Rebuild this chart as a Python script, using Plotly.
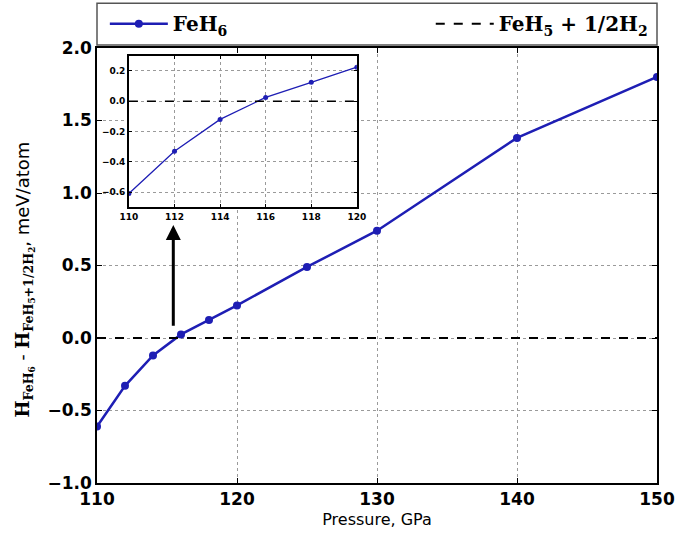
import plotly.graph_objects as go

# ---- data ----
pressure = [110, 112, 114, 116, 118, 120, 125, 130, 140, 150]
dH_feh6 = [-0.61, -0.33, -0.12, 0.025, 0.125, 0.225, 0.49, 0.74, 1.38, 1.80]
ref_level = [0.0, 0.0]
ref_x = [110, 150]
inset_p = [110, 112, 114, 116, 118, 120]
inset_dH = [-0.61, -0.33, -0.12, 0.025, 0.125, 0.225]
inset_ref_x = [110, 120]
arrow_tail = (115.45, 0.075)
arrow_head = (115.45, 0.78)

x_ticks = [110, 120, 130, 140, 150]
y_ticks = [-1.0, -0.5, 0.0, 0.5, 1.0, 1.5, 2.0]
inset_x_ticks = [110, 112, 114, 116, 118, 120]
inset_y_ticks = [-0.6, -0.4, -0.2, 0.0, 0.2]

BLUE = "#1e1eb4"
SERIF = "DejaVu Serif"
SANS = "DejaVu Sans"

fig = go.Figure()

# main traces
fig.add_trace(go.Scatter(
    x=pressure, y=dH_feh6, mode="lines+markers", name="<b>FeH<sub>6</sub></b>",
    line=dict(color=BLUE, width=2.5), marker=dict(color=BLUE, size=8),
    xaxis="x", yaxis="y", legend="legend"))
fig.add_trace(go.Scatter(
    x=ref_x, y=ref_level, mode="lines",
    name="<b>FeH<sub>5</sub> + 1/2H<sub>2</sub></b>",
    line=dict(color="black", width=2, dash="dash"),
    xaxis="x", yaxis="y", legend="legend2"))

# inset traces
fig.add_trace(go.Scatter(
    x=inset_p, y=inset_dH, mode="lines+markers", showlegend=False,
    line=dict(color=BLUE, width=1.3), marker=dict(color=BLUE, size=5),
    xaxis="x2", yaxis="y2"))
fig.add_trace(go.Scatter(
    x=inset_ref_x, y=ref_level, mode="lines", showlegend=False,
    line=dict(color="black", width=1.5, dash="dash"),
    xaxis="x2", yaxis="y2"))

grid = dict(showgrid=True, gridcolor="#9a9a9a", gridwidth=1, griddash="dot",
            zeroline=False, showline=True, linecolor="black", linewidth=1.5,
            mirror="ticks", ticks="inside", tickcolor="black")

ylab = (f"<span style='font-family:{SERIF}'><b>H</b><sub><b>FeH<sub>6</sub></b></sub>"
        f" - <b>H</b><sub><b>FeH<sub>5</sub>+1/2H<sub>2</sub></b></sub></span>, meV/atom")

legend_common = dict(orientation="h", xanchor="left", y=1.056, yanchor="middle",
                     bgcolor="rgba(0,0,0,0)", font=dict(family=SERIF, size=20),
                     itemwidth=58)

fig.update_layout(
    width=677, height=535,
    margin=dict(l=97, r=20, t=48, b=52, autoexpand=False),
    paper_bgcolor="white", plot_bgcolor="white",
    font=dict(family=SANS, color="black"),
    xaxis=dict(domain=[0, 1], range=[110, 150], tickvals=x_ticks,
               ticklen=5, tickfont=dict(size=17, family=SANS, weight="bold"),
               title=dict(text="Pressure, GPa", font=dict(size=16), standoff=6),
               anchor="y", **grid),
    yaxis=dict(domain=[0, 1], range=[-1.0, 2.0], tickvals=y_ticks, tickformat=".1f",
               ticklen=5, tickfont=dict(size=17, family=SANS, weight="bold"),
               anchor="x", **grid),
    xaxis2=dict(domain=[0.057, 0.464], range=[110, 120], tickvals=inset_x_ticks,
                ticklen=3, tickfont=dict(size=9, family=SANS, weight="bold"),
                anchor="y2", **grid),
    yaxis2=dict(domain=[0.634, 0.982], range=[-0.7, 0.3], tickvals=inset_y_ticks,
                tickformat=".1f", ticklen=3,
                tickfont=dict(size=9, family=SANS, weight="bold"),
                anchor="x2", **grid),
    showlegend=True,
    legend=dict(x=0.014, **legend_common),
    legend2=dict(x=0.596, **legend_common),
    shapes=[
        dict(type="rect", xref="paper", yref="paper", x0=0.003, x1=0.486,
             y0=0.6, y1=0.996, layer="between", line=dict(width=0),
             fillcolor="white"),
        dict(type="rect", xref="paper", yref="paper", x0=0, x1=1,
             y0=1.007, y1=1.103, line=dict(color="#555555", width=1.5),
             fillcolor="rgba(0,0,0,0)")],
    annotations=[
        dict(x=arrow_head[0], y=arrow_head[1], ax=arrow_tail[0], ay=arrow_tail[1],
             xref="x", yref="y", axref="x", ayref="y", showarrow=True,
             arrowhead=2, arrowsize=1, arrowwidth=3, arrowcolor="black", text=""),
        dict(text=ylab, textangle=-90, xref="paper", yref="paper",
             x=-0.129, y=0.467, xanchor="center", yanchor="middle",
             showarrow=False, font=dict(size=18, family=SANS, color="black")),
    ],
)

fig.write_html("out.html")
